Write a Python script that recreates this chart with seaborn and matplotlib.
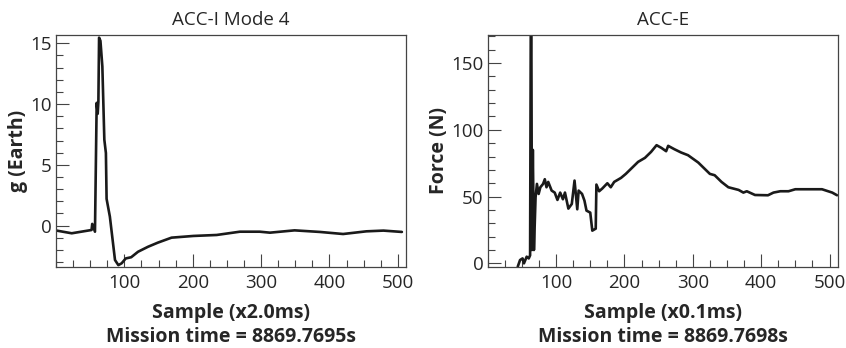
#!/usr/bin/env python
# -*- coding:utf-8 -*-
import pandas as pd
from matplotlib import pyplot as plt
from matplotlib.ticker import MultipleLocator
import seaborn as sns

# ACC-I Mode 4 : g (Earth) vs sample (x2.0ms)
acc_i_sample = [1, 23, 52, 53, 57, 59.5, 61, 62, 63, 65, 67.8, 70.7, 73, 74, 78.8, 86.3,
                91.2, 96, 102, 110, 120, 134.6, 149, 169, 201, 235, 269, 298, 313,
                349, 386, 420, 454, 479, 506]
acc_i_g = [-0.41, -0.63, -0.36, 0.14, -0.5, 10.1, 9.2, 10.2, 15.46, 15.2, 13.1, 7.07,
           5.97, 2.2, 0.74, -2.83, -3.25, -3.1, -2.7, -2.6, -2.15, -1.74, -1.4, -0.99,
           -0.85, -0.77, -0.5, -0.5, -0.58, -0.39, -0.52, -0.69, -0.47, -0.41, -0.52]

# ACC-E : Force (N) vs sample (x0.1ms)
acc_e_sample = [43.9, 47.3, 51, 53, 57, 60, 62, 63, 63.8, 64.7, 66, 67.6, 70, 72, 74.5,
                77, 81, 83.5, 86, 88.5, 93.5, 98, 102, 106, 110, 113, 118, 123, 127,
                131, 133, 138, 141.5, 144.5, 150, 153, 158, 159, 163, 167.5, 175, 180,
                185, 195, 202, 210, 220, 230, 239, 247, 254, 261, 264, 273, 283, 293,
                308, 325, 332, 342, 352, 367, 374, 379, 391, 410, 418, 428, 440, 450,
                489, 504, 511]
acc_e_force = [-2.5, 2.5, 3.7, 0, 5, 3.7, 6, 180, 180, 10, 85, 10, 49.5, 59.5, 52, 57,
               59.5, 63, 57, 61, 54.5, 53, 47.5, 53, 48, 53, 41, 44.5, 62, 40.5, 54.5,
               52, 47, 39.5, 38, 24.5, 26, 59, 54, 56, 60, 57, 61, 64, 67, 71, 76, 79,
               83.5, 88.5, 86.5, 84, 88, 85.5, 83, 81, 75.5, 67, 66, 61, 57, 55, 53, 54,
               51.2, 51, 53, 54, 54, 55.5, 55.5, 53, 51]

sns.set_style("white")
plt.rcParams['font.family'] = ['Open Sans', 'DejaVu Sans']

df_i = pd.DataFrame({"sample": acc_i_sample, "g": acc_i_g})
df_e = pd.DataFrame({"sample": acc_e_sample, "force": acc_e_force})

fig = plt.figure(figsize=(8.46, 3.48), dpi=100)
ax1 = fig.add_axes([0.0662, 0.2336, 0.4137, 0.6658])
ax2 = fig.add_axes([0.5765, 0.2336, 0.4137, 0.6658])

line_color = "#1a1a1a"
frame_color = "#444444"

sns.lineplot(data=df_i, x="sample", y="g", ax=ax1, color=line_color, linewidth=1.9,
             sort=False)
sns.lineplot(data=df_e, x="sample", y="force", ax=ax2, color=line_color, linewidth=1.9,
             sort=False)

ax1.set_xlim(0, 512)
ax1.set_ylim(-3.38, 15.68)
ax2.set_xlim(0, 512)
ax2.set_ylim(-2.5, 171)

ax1.yaxis.set_major_locator(MultipleLocator(5))
ax1.yaxis.set_minor_locator(MultipleLocator(1))
ax2.yaxis.set_major_locator(MultipleLocator(50))
ax2.yaxis.set_minor_locator(MultipleLocator(10))
for ax in (ax1, ax2):
    ax.xaxis.set_major_locator(MultipleLocator(100))
    ax.xaxis.set_minor_locator(MultipleLocator(25))
    ax.tick_params(which="both", direction="in", top=False, right=False,
                   bottom=True, left=True, color=frame_color, width=0.8)
    ax.tick_params(which="major", length=9.5, labelsize=13.5, pad=3)
    ax.tick_params(which="minor", length=5)
    ax.tick_params(axis="x", which="major", pad=5)
    for s in ax.spines.values():
        s.set_color(frame_color)
        s.set_linewidth(0.9)
    # ticks at 0 on the x axis are not labelled
    ax.set_xticks([100, 200, 300, 400, 500])

ax1.set_title("ACC-I Mode 4", fontsize=13.5, pad=7)
ax2.set_title("ACC-E", fontsize=13.5, pad=7)
ax1.set_xlabel("Sample (x2.0ms)\nMission time = 8869.7695s", fontsize=14,
               fontweight="bold", linespacing=1.25, labelpad=8)
ax2.set_xlabel("Sample (x0.1ms)\nMission time = 8869.7698s", fontsize=14,
               fontweight="bold", linespacing=1.25, labelpad=8)
ax1.set_ylabel("g (Earth)", fontsize=14, fontweight="bold", labelpad=2)
ax2.set_ylabel("Force (N)", fontsize=14, fontweight="bold", labelpad=2)

plt.savefig("out.png", dpi=100)
